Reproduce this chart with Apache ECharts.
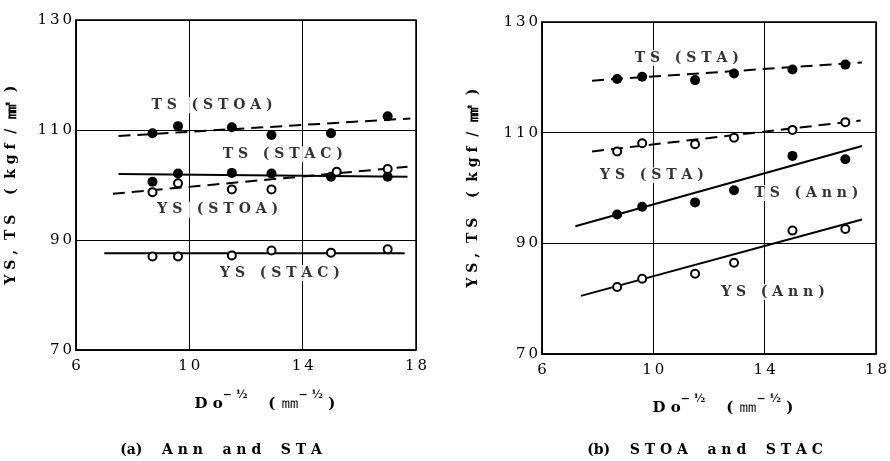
<!DOCTYPE html>
<html>
<head>
<meta charset="utf-8">
<script src="https://cdn.jsdelivr.net/npm/echarts@6/dist/echarts.min.js"></script>
<style>
  html, body { margin: 0; padding: 0; background: #fff; }
  #chart { width: 890px; height: 461px; }
</style>
</head>
<body>
<div id="chart"></div>
<script>
// ticks
const xTicks = [6, 10, 14, 18]
const yTicks = [70, 90, 110, 130]

// panel (a): Do^-1/2 positions and strengths (kgf/mm2)
const doA = [8.7, 9.6, 11.5, 12.9, 15.0, 17.0]
const doAysStoa = [8.7, 9.6, 11.5, 12.9, 15.2, 17.0]
const tsStoa = [109.4, 110.7, 110.5, 109.1, 109.4, 112.5]
const tsStac = [100.6, 102.1, 102.2, 102.1, 101.5, 101.5]
const ysStoa = [98.7, 100.3, 99.2, 99.2, 102.4, 102.9]
const ysStac = [87.0, 87.0, 87.2, 88.1, 87.7, 88.3]
const tsStoaFit = [[7.5, 108.9], [17.8, 112.1]]
const tsStacFit = [[7.5, 102.0], [17.7, 101.5]]
const ysStoaFit = [[7.3, 98.4], [17.7, 103.3]]
const ysStacFit = [[7.0, 87.6], [17.6, 87.6]]

// panel (b)
const doB = [8.7, 9.6, 11.5, 12.9, 15.0, 16.9]
const tsSta = [119.7, 120.1, 119.5, 120.7, 121.4, 122.3]
const ysSta = [106.6, 108.1, 107.9, 109.1, 110.5, 111.9]
const tsAnn = [95.2, 96.6, 97.4, 99.6, 105.8, 105.2]
const ysAnn = [82.1, 83.6, 84.5, 86.5, 92.3, 92.6]
const tsStaFit = [[7.8, 119.4], [17.5, 122.7]]
const ysStaFit = [[7.8, 106.6], [17.45, 112.2]]
const tsAnnFit = [[7.2, 93.1], [17.5, 107.6]]
const ysAnnFit = [[7.4, 80.5], [17.5, 94.3]]

// curve labels: [text, x, y]
const labelsA = [['TS (STOA)', 10.8, 114.5], ['TS (STAC)', 13.3, 105.6], ['YS (STOA)', 11.0, 95.5], ['YS (STAC)', 13.2, 84.0]]
const labelsB = [['TS (STA)', 11.2, 123.5], ['YS (STA)', 9.95, 102.3], ['TS (Ann)', 15.5, 99.1], ['YS (Ann)', 14.3, 81.2]]

const captions = ['(a) Ann and STA', '(b) STOA and STAC']

const FONT = 'DejaVu Serif'
const INK = '#000'
const spaced = s => s.split('').join(' ')
// "(a)" kept tight, the words letter-spaced
const capText = s => {
  const w = s.split(' ')
  return w[0] + '    ' + w.slice(1).map(spaced).join('    ')
}

const zip = (xs, ys) => xs.map((x, i) => [x, ys[i]])

function xAxis(gridIndex, pad) {
  return {
    type: 'value', gridIndex, min: 6, max: 18, interval: 4,
    axisLine: { show: true, lineStyle: { color: INK, width: 1.5 } },
    axisTick: { show: false },
    splitLine: { show: true, lineStyle: { color: INK, width: 1 } },
    axisLabel: {
      color: INK, fontFamily: FONT, fontSize: 15, margin: 9,
      formatter: v => String(v).split('').join('\u2009')
    },
    name: '{b|D o}{s|− ½}{b|    ( }{u|㎜}{s|− ½}{b| )}',
    nameLocation: 'middle', nameGap: 40,
    nameTextStyle: {
      padding: [0, 0, 0, pad],
      rich: {
        b: { fontFamily: FONT, fontSize: 15, fontWeight: 'bold', color: INK, lineHeight: 22, verticalAlign: 'bottom' },
        u: { fontFamily: FONT, fontSize: 18, color: INK, lineHeight: 22, verticalAlign: 'bottom' },
        s: { fontFamily: FONT, fontSize: 11, fontWeight: 'bold', color: INK, lineHeight: 12, verticalAlign: 'top' }
      }
    }
  }
}

function yAxis(gridIndex, gap) {
  return {
    type: 'value', gridIndex, min: 70, max: 130, interval: 20,
    axisLine: { show: true, lineStyle: { color: INK, width: 1.5 } },
    axisTick: { show: false },
    splitLine: { show: true, lineStyle: { color: INK, width: 1 } },
    axisLabel: {
      color: INK, fontFamily: FONT, fontSize: 15, margin: 4,
      formatter: v => String(v).split('').join('\u2009')
    },
    name: '{b|Y S ,  T S    (  k g f  /  }{u|㎟}{b|  )}',
    nameLocation: 'middle', nameRotate: 90, nameGap: gap,
    nameTextStyle: {
      rich: {
        b: { color: INK, fontFamily: FONT, fontSize: 14, fontWeight: 'bold' },
        u: { color: INK, fontFamily: FONT, fontSize: 17, fontWeight: 'bold' }
      }
    }
  }
}

function dots(idx, data, open) {
  return {
    type: 'scatter', xAxisIndex: idx, yAxisIndex: idx, data, z: 5,
    symbol: 'circle', symbolSize: open ? 8 : 10,
    itemStyle: open
      ? { color: '#fff', borderColor: INK, borderWidth: 2, opacity: 1 }
      : { color: INK, borderWidth: 0, opacity: 1 }
  }
}

function fit(idx, data, dashed) {
  return {
    type: 'line', xAxisIndex: idx, yAxisIndex: idx, data, z: 4,
    showSymbol: false, symbol: 'none', silent: true,
    lineStyle: { color: INK, width: 2, type: dashed ? [12, 7] : 'solid' }
  }
}

function labels(idx, list) {
  return {
    type: 'scatter', xAxisIndex: idx, yAxisIndex: idx, z: 3, symbolSize: 0, silent: true,
    data: list.map(l => ({ value: [l[1], l[2]], name: l[0] })),
    label: {
      show: true, position: 'inside', formatter: p => spaced(p.name),
      color: INK, fontFamily: FONT, fontSize: 14, fontWeight: 'bold',
      backgroundColor: '#fff', padding: [1, 3]
    }
  }
}

const chart = echarts.init(document.getElementById('chart'), null, { renderer: 'canvas' })

chart.setOption({
  backgroundColor: '#fff',
  animation: false,
  grid: [
    { left: 76, top: 20, width: 340, height: 330, show: true, borderColor: INK, borderWidth: 1.5, backgroundColor: 'transparent' },
    { left: 542, top: 22, width: 338, height: 332, show: true, borderColor: INK, borderWidth: 1.5, backgroundColor: 'transparent' }
  ],
  xAxis: [xAxis(0, 38), xAxis(1, 28)],
  yAxis: [yAxis(0, 56), yAxis(1, 60)],
  graphic: [
    {
      type: 'text', x: 221, y: 450,
      style: { text: capText(captions[0]), fill: INK, font: 'bold 14px "DejaVu Serif"', align: 'center', verticalAlign: 'middle' }
    },
    {
      type: 'text', x: 705, y: 450,
      style: { text: capText(captions[1]), fill: INK, font: 'bold 14px "DejaVu Serif"', align: 'center', verticalAlign: 'middle' }
    }
  ],
  series: [
    labels(0, labelsA),
    fit(0, tsStoaFit, true),
    fit(0, tsStacFit, false),
    fit(0, ysStoaFit, true),
    fit(0, ysStacFit, false),
    dots(0, zip(doA, tsStoa), false),
    dots(0, zip(doA, tsStac), false),
    dots(0, zip(doAysStoa, ysStoa), true),
    dots(0, zip(doA, ysStac), true),

    labels(1, labelsB),
    fit(1, tsStaFit, true),
    fit(1, ysStaFit, true),
    fit(1, tsAnnFit, false),
    fit(1, ysAnnFit, false),
    dots(1, zip(doB, tsSta), false),
    dots(1, zip(doB, ysSta), true),
    dots(1, zip(doB, tsAnn), false),
    dots(1, zip(doB, ysAnn), true)
  ]
})
</script>
</body>
</html>
